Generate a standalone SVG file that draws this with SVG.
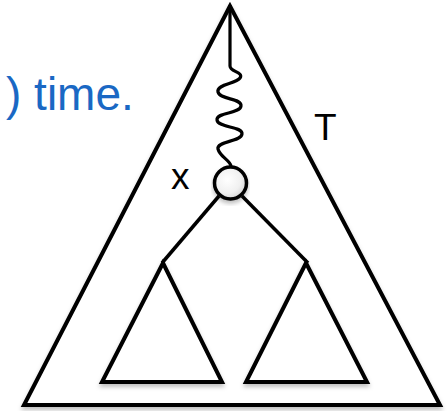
<svg xmlns="http://www.w3.org/2000/svg" width="448" height="411" viewBox="0 0 448 411">
<style>
.tri{fill:#fff;stroke:#000;stroke-width:4;stroke-linejoin:miter}
.sub{fill:#fff;stroke:#000;stroke-width:4;stroke-linejoin:miter}
.edge{fill:none;stroke:#000;stroke-width:3.5;stroke-linecap:butt}
.wave{fill:none;stroke:#000;stroke-width:3.2;stroke-linecap:round;stroke-linejoin:round}
.lbl{font-family:"Liberation Sans",Arial,sans-serif;font-size:37px;fill:#000}
.blue{font-family:"Liberation Sans",Arial,sans-serif;font-size:46px;fill:#1a68c4}
</style>
<defs>
<filter id="sh" x="-10%" y="-10%" width="120%" height="130%">
<feDropShadow dx="0" dy="3" stdDeviation="2" flood-color="#000" flood-opacity="0.25"/>
</filter>
<radialGradient id="cg" cx="0.4" cy="0.4" r="0.7">
<stop offset="0" stop-color="#ffffff"/>
<stop offset="0.6" stop-color="#f0f0f0"/>
<stop offset="1" stop-color="#cccccc"/>
</radialGradient>
</defs>
<text class="blue" x="6" y="110">) time.</text>
<g id="T">
<polygon class="tri" points="230,6 24,405 440,405" filter="url(#sh)"/>
<text class="lbl" x="314" y="140">T</text>
</g>
<g id="connectors">
<path class="wave" d="M230,6 L230,66 C230,72 244,72 240,78 C236,84 216,84 218,92 C220,100 242,98 241,106 C240,114 216,112 217,120 C218,128 243,126 242,134 C241,142 216,141 218,149 C220,157 230,160 231,166"/>
<line class="edge" x1="219" y1="196" x2="162" y2="263"/>
<line class="edge" x1="242" y1="196" x2="308" y2="263"/>
</g>
<g id="x">
<circle cx="230.5" cy="183" r="16" fill="url(#cg)" stroke="#000" stroke-width="3.5" filter="url(#sh)"/>
<text class="lbl" x="171" y="189">x</text>
</g>
<g id="left">
<polygon class="sub" points="163,263 102,382 222,382" filter="url(#sh)"/>
</g>
<g id="right">
<polygon class="sub" points="306,263 246,382 367,382" filter="url(#sh)"/>
</g>
</svg>
